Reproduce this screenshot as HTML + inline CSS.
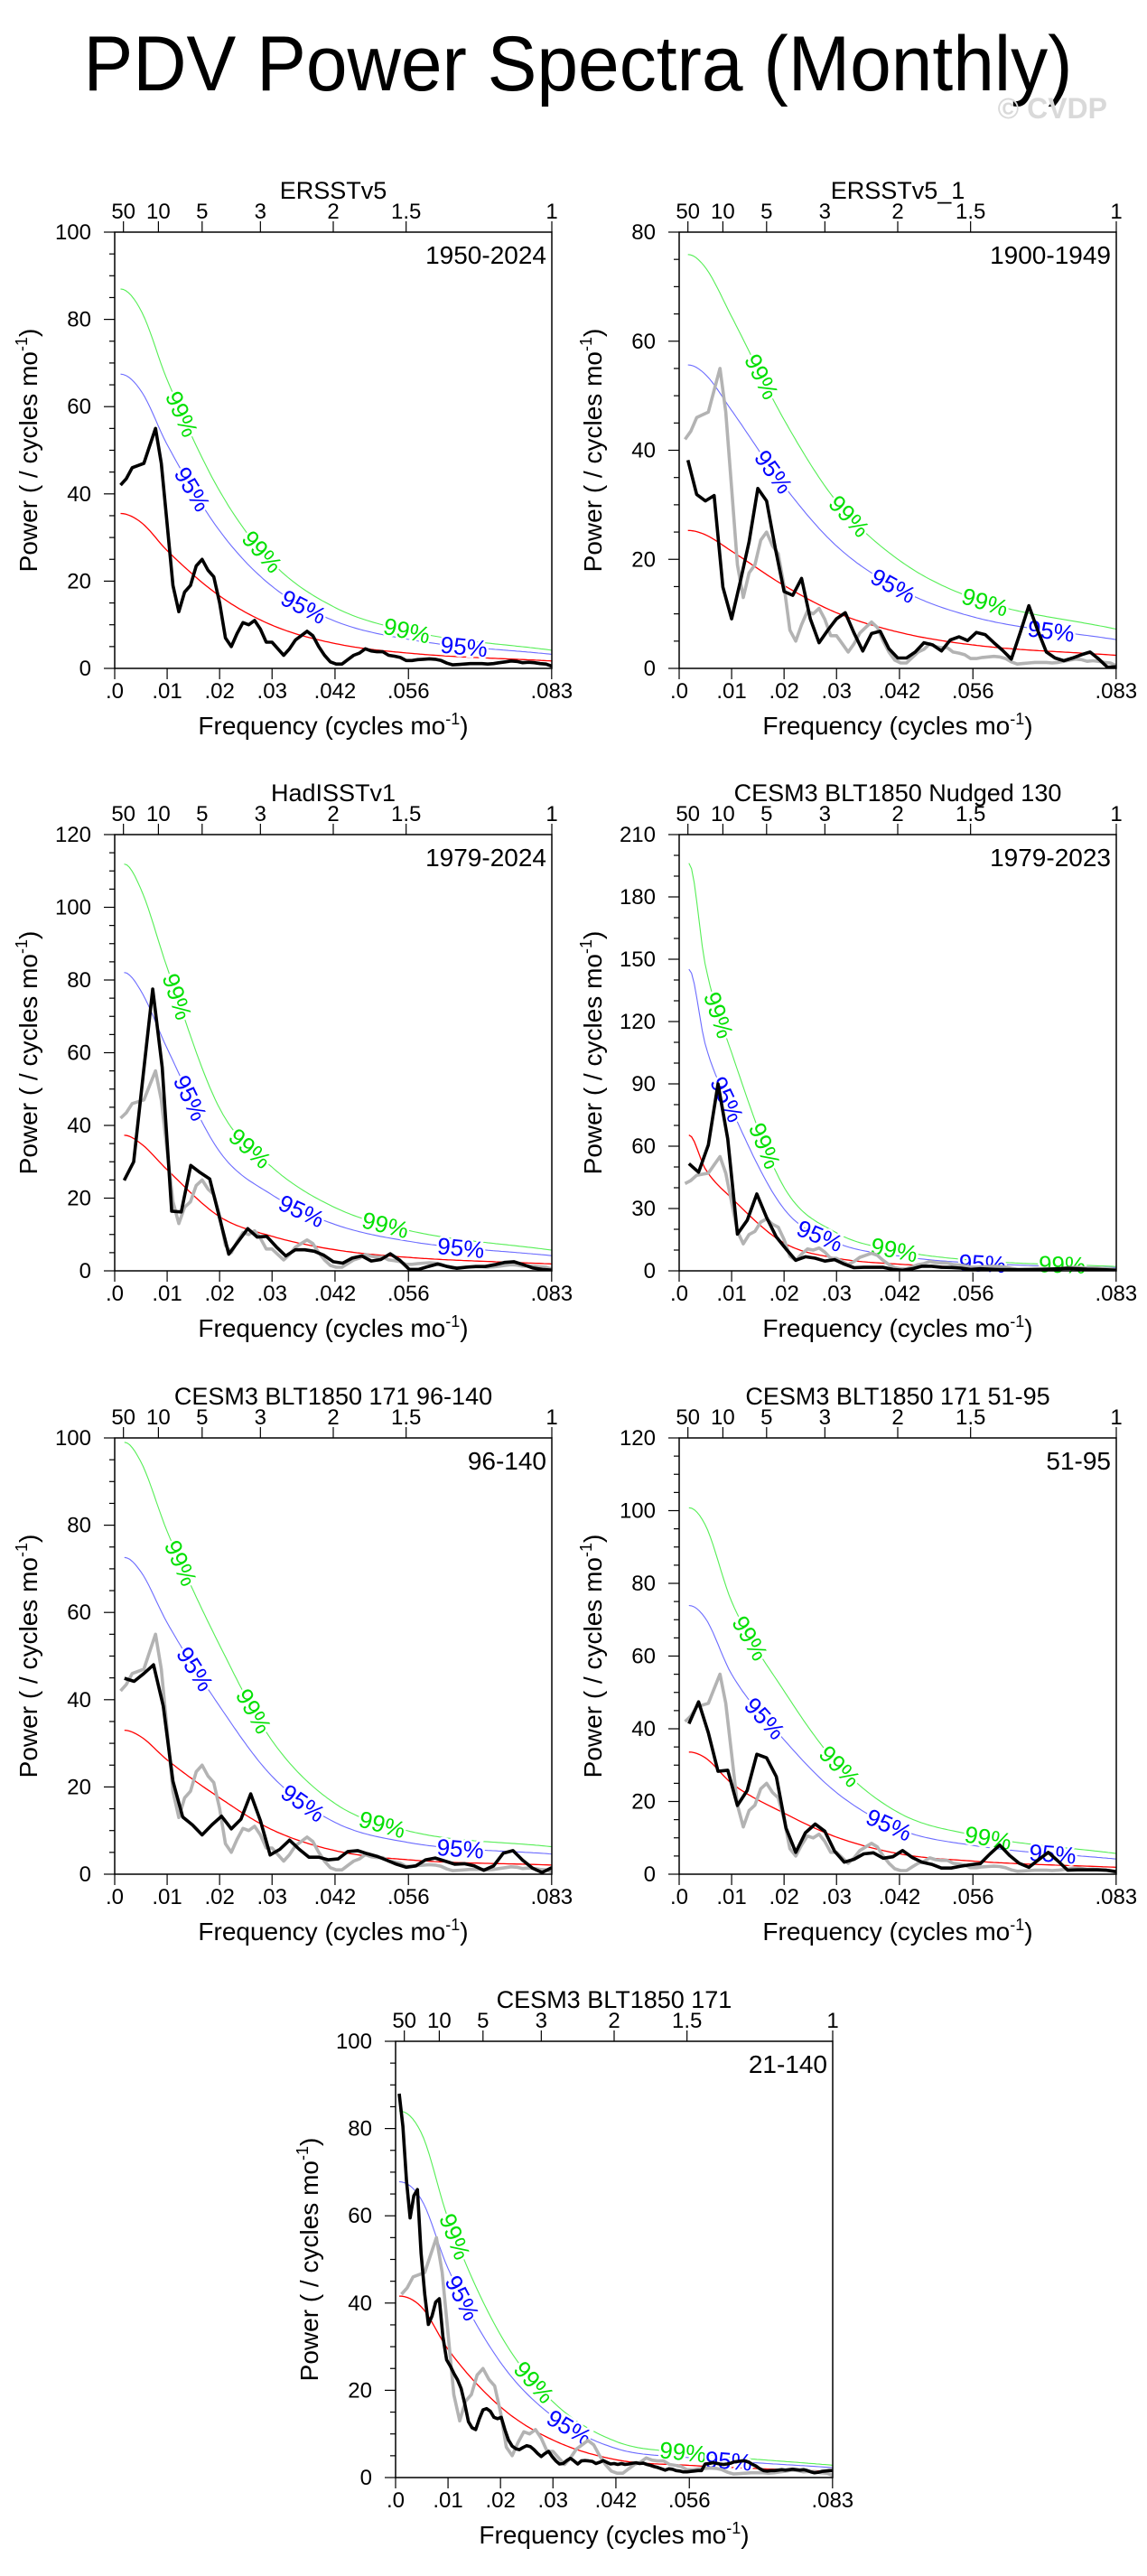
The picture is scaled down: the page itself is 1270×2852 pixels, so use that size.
<!DOCTYPE html>
<html><head><meta charset="utf-8"><title>PDV Power Spectra (Monthly)</title>
<style>
html,body{margin:0;padding:0;background:#fff;}
svg{display:block;font-family:"Liberation Sans",Arial,sans-serif;}
</style></head>
<body>
<svg id="chart" xmlns="http://www.w3.org/2000/svg" width="1270" height="2852" viewBox="0 0 1270 2852">
<rect x="0" y="0" width="1270" height="2852" fill="#fff"/>
<text x="640" y="100" font-size="86" text-anchor="middle" textLength="1095" lengthAdjust="spacingAndGlyphs" fill="#000">PDV Power Spectra (Monthly)</text>
<text x="1226" y="131" font-size="32" font-weight="bold" text-anchor="end" fill="#d9d9d9">© CVDP</text>
</svg>
<script>
// ---------- data ----------
const panelTitles = ["ERSSTv5","ERSSTv5_1","HadISSTv1","CESM3 BLT1850 Nudged 130","CESM3 BLT1850 171 96-140","CESM3 BLT1850 171 51-95","CESM3 BLT1850 171"];
const panelPeriods = ["1950-2024","1900-1949","1979-2024","1979-2023","96-140","51-95","21-140"];
const panelYears = [75,50,46,45,45,45,120];
const yMaxes = [100,80,120,210,100,120,100];
const yMajorSteps = [20,20,20,30,20,20,20];
const yMinorSteps = [5,5,5,10,5,5,5];
const xTickValues = [0,0.01,0.02,0.03,0.042,0.056,0.0833];
const xTickLabels = [".0",".01",".02",".03",".042",".056",".083"];
const topPeriods = [50,10,5,3,2,1.5,1];
const topPeriodLabels = ["50","10","5","3","2","1.5","1"];

// reference (gray) spectrum: ERSSTv5 1950-2024
const refYears = 75;
const refSpectrum = [42,43.5,46,46.5,47,51,55,47,33,19,13,17.5,19,23.5,25,22.5,21,15,7,5,8,10.5,10,11,9,6,6,4.5,3,4.5,6.5,7.5,8.5,7.5,5,3,1.5,1,1,2,3,3.5,4.5,4,3.8,3.8,3,2.8,2.5,1.8,1.8,2,2.1,2.2,2.1,1.8,1.2,0.8,0.9,1,1.1,1.1,1.1,1,1.1,1.3,1.5,1.7,1.6,1.3,1.4,1.3,1.1,1,0.5];

const spec0 = refSpectrum;
const spec1 = [38.2,31.9,30.7,31.7,14.9,9.1,16,23.2,33,30.7,22,14.1,13.4,16.5,9.1,4.7,7,9.1,10.2,6.5,3.2,6.4,6.8,3.6,1.9,1.9,3,4.7,4.3,3.2,5.2,5.8,5.1,6.6,6.2,4.7,3.3,1.7,6.5,11.5,7,3,1.9,1.4,1.9,2.5,3,1.7,0.2,0.3];
const spec2 = [24.9,30,54,77.5,56,16.4,16.2,29,27,25.3,15,4.6,8.1,11.6,9.3,9.5,6.6,4.1,5.8,5.8,5.4,4.3,2.5,2.1,3.5,4.1,2.7,3.1,4.7,2.9,0.4,0.4,1.2,1.9,1.2,0.7,1.0,1.2,1.2,1.7,2.3,2.5,1.7,0.8,0.4,0.2];
const spec3 = [51.6,47.5,60.6,90,63.5,17.7,24.3,37,25.7,16.3,10.5,5.1,6.8,6.1,4.7,5.4,3.2,1.5,1.7,1.7,1.7,0.7,0.3,1,2.2,2.2,1.7,1.6,1.3,0.7,1.0,0.8,0.6,0.6,0.5,0.5,0.6,0.8,1.0,1.2,1.0,0.8,0.7,0.5,0.3];
const spec4 = [44.9,44.2,46,48,38.5,21.3,13.1,11.3,9,11.3,13.3,10.4,12.6,18.4,12.3,4.4,5.7,7.8,5.7,3.9,3.9,3.3,3.5,5.2,5.4,4.7,4.1,3.2,2.3,1.6,1.9,3.3,3.7,3.0,2.3,2.4,1.9,0.9,1.9,4.8,5.4,3.2,1.4,0.4,1.5];
const spec5 = [41.4,47.4,38.9,28.3,28.6,18.9,23,33,32,26.8,12.7,6,11.4,13.8,11.8,6.3,3.3,4.1,5.6,5.9,4.4,4.8,6.5,4.6,3.3,2.7,1.7,1.7,2.2,2.6,2.9,5.6,8,5.2,3,1.9,4,6,3.6,1.1,1.2,1.2,1.2,1.1,0.7];
const spec6 = [88,80.5,68,59.5,64.6,66,51.5,42,35.1,37,40.2,41,32.3,27,25.6,23.9,22.4,20.4,16.9,12.8,11.4,11,13.5,15.5,15.8,15.2,13.8,13.5,13.8,11,8.6,7.2,6.6,6.4,6.9,7.3,7.1,6.4,5.5,4.8,5.5,6,4.8,3.8,3.1,3.2,3.9,4.4,3.8,3.1,3.8,3.9,3.8,3.7,3.2,3.5,3.9,3.5,3.1,3.2,3.0,3.2,3.0,3.1,3.3,3.4,3.2,3.3,3.0,2.8,2.5,2.3,2.0,1.7,2.0,1.9,1.6,1.5,1.3,1.3,1.4,1.5,1.6,1.6,3.1,3.2,3.4,3.3,3.1,3.0,3.1,3.3,3.6,3.7,3.8,3.8,3.5,3.0,2.6,2.0,1.6,1.5,1.6,1.6,1.7,1.8,1.7,1.8,1.9,1.8,1.7,1.8,1.6,1.3,1.1,1.2,1.4,1.5,1.6,1.6];
const showGray = [false,true,true,true,true,true,true];

// red-noise fit: value at first frequency, then at redFreqs
const redFreqs = [0.005,0.01,0.02,0.03,0.042,0.056,0.0833];
const redStart = [35.5,25.3,37.3,65.4,33,33.6,41.6];
const red0 = [33.5,27,16.6,9.9,5.7,3.5,1.7];
const red1 = [24.5,21.5,15.2,10.2,6.6,4.3,2.4];
const red2 = [35,27.8,14.9,9.5,5.8,3.7,1.9];
const red3 = [49,35,13.4,6.1,3.2,1.7,0.7];
const red4 = [31.5,26.2,17.5,10.2,5.4,3.3,2.1];
const red5 = [32,25,16.8,10.2,5.6,3.6,1.9];
const red6 = [39,29.4,16.2,8.6,4.1,2.8,1.4];
const conf95Factor = [1.9,2.2,2.2,2.22,2.2,2.2,1.63];
const conf99Factor = [2.45,3.0,3.0,3.0,3.0,3.0,2.02];
// label positions (frequency) along confidence curves
const label99Freqs = [[0.0128,0.0281,0.0557],[0.0157,0.0324,0.0583],[0.0119,0.0258,0.0516],[0.0075,0.0163,0.041,0.073],[0.0126,0.0265,0.051],[0.0135,0.0306,0.0589],[0.0113,0.0264,0.0548]];
const label95Freqs = [[0.0148,0.036,0.0666],[0.018,0.0408,0.0709],[0.0144,0.0356,0.066],[0.0091,0.0268,0.0578],[0.0153,0.0359,0.0659],[0.0163,0.04,0.0712],[0.0127,0.0331,0.0635]];

// ---------- layout ----------
const boxLeft = [127,752,127,752,127,752,438];
const boxTop = [257,257,924,924,1592,1592,2260];
const BW = 484, BH = 483, FMAX = 1/12;
const spectra = [spec0,spec1,spec2,spec3,spec4,spec5,spec6];
const reds = [red0,red1,red2,red3,red4,red5,red6];

const NS = "http://www.w3.org/2000/svg";
const svg = document.getElementById("chart");
function mk(tag, attrs, parent){
  const e = document.createElementNS(NS, tag);
  for (const k in attrs) e.setAttribute(k, attrs[k]);
  (parent||svg).appendChild(e);
  return e;
}
function monoInterp(xs, ys){
  const n = xs.length, d = [], m = new Array(n);
  for (let i=0;i<n-1;i++) d.push((ys[i+1]-ys[i])/(xs[i+1]-xs[i]));
  m[0]=0; m[n-1]=d[n-2];
  for (let i=1;i<n-1;i++){ m[i] = (d[i-1]*d[i]<=0)?0:(d[i-1]+d[i])/2; }
  for (let i=0;i<n-1;i++){
    if (d[i]===0){m[i]=0;m[i+1]=0;continue;}
    const a=m[i]/d[i], b=m[i+1]/d[i], s=a*a+b*b;
    if (s>9){const t=3/Math.sqrt(s); m[i]=t*a*d[i]; m[i+1]=t*b*d[i];}
  }
  return function(x){
    let i=0; while(i<n-2 && x>xs[i+1]) i++;
    const h=xs[i+1]-xs[i], t=(x-xs[i])/h, t2=t*t, t3=t2*t;
    return (2*t3-3*t2+1)*ys[i]+(t3-2*t2+t)*h*m[i]+(-2*t3+3*t2)*ys[i+1]+(t3-t2)*h*m[i+1];
  };
}

for (let p=0;p<7;p++){
  const L=boxLeft[p], T=boxTop[p], R=L+BW, B=T+BH, ymax=yMaxes[p];
  const xs = f => L + f/FMAX*BW;
  const ys = v => B - v/ymax*BH;
  const g = mk("g",{});
  
  
  const cid = "clip"+p;
  const cp = mk("clipPath",{id:cid}, g);
  mk("rect",{x:L,y:T,width:BW,height:BH}, cp);

  const tt = mk("text",{x:(L+R)/2,y:T-37,"font-size":27,"text-anchor":"middle"}, g);
  tt.textContent = panelTitles[p];
  
  
  const pt = mk("text",{x:R-6,y:T+35,"font-size":28,"text-anchor":"end"}, g);
  pt.textContent = panelPeriods[p];
  
  

  for (let v=0; v<=ymax+1e-9; v+=yMinorSteps[p]){
    const major = Math.abs(v/yMajorSteps[p]-Math.round(v/yMajorSteps[p]))<1e-6;
    const tk = mk("line",{x1:L-(major?12:6),x2:L,y1:ys(v),y2:ys(v),stroke:"#000","stroke-width":1.2}, g);
    
    
    if (major){
      const lb = mk("text",{x:L-26,y:ys(v)+8,"font-size":24,"text-anchor":"end"}, g);
      lb.textContent = String(Math.round(v));
      
      
    }
  }
  xTickValues.forEach((f,i)=>{
    const tk = mk("line",{x1:xs(f),x2:xs(f),y1:B,y2:B+12,stroke:"#000","stroke-width":1.2}, g);
    
    
    const lb = mk("text",{x:xs(f),y:B+33,"font-size":24,"text-anchor":"middle"}, g);
    lb.textContent = xTickLabels[i];
    
    
  });
  topPeriods.forEach((yr,i)=>{
    const f = 1/(12*yr);
    const tk = mk("line",{x1:xs(f),x2:xs(f),y1:T-12,y2:T,stroke:"#000","stroke-width":1.2}, g);
    
    
    const lb = mk("text",{x:xs(f),y:T-15,"font-size":24,"text-anchor":"middle"}, g);
    lb.textContent = topPeriodLabels[i];
    
    
  });
  const yt = mk("text",{x:0,y:0,"font-size":28,"text-anchor":"middle",transform:`translate(${L-86},${(T+B)/2}) rotate(-90)`}, g);
  yt.innerHTML = 'Power ( / cycles mo<tspan dy="-11" font-size="18">-1</tspan><tspan dy="11">)</tspan>';
  
  
  const xt = mk("text",{x:(L+R)/2,y:B+73,"font-size":28,"text-anchor":"middle"}, g);
  xt.innerHTML = 'Frequency (cycles mo<tspan dy="-11" font-size="18">-1</tspan><tspan dy="11">)</tspan>';
  
  

  const spec = spectra[p], yrs = panelYears[p];
  const f1 = 1/(12*yrs);
  const rf = [f1].concat(redFreqs), rv = [redStart[p]].concat(reds[p]);
  const redFn = monoInterp(rf, rv);
  const curves = [[1,"#ff0000",1.3,"red-noise-curve"],[conf95Factor[p],"#6b6bff",1.1,"conf-95-curve"],[conf99Factor[p],"#55ee55",1.1,"conf-99-curve"]];
  const cg = mk("g",{"clip-path":`url(#${cid})`}, g);
  curves.forEach(c=>{
    let d="";
    for (let i=0;i<=160;i++){
      const f = f1 + (FMAX-f1)*i/160;
      d += (i?"L":"M")+xs(f).toFixed(1)+","+ys(redFn(f)*c[0]).toFixed(1);
    }
    const pa = mk("path",{d:d,fill:"none",stroke:c[1],"stroke-width":c[2]}, cg);
    
    
  });
  const labelSets = [[label99Freqs[p],conf99Factor[p],"#00e000","99%"],[label95Freqs[p],conf95Factor[p],"#0000ff","95%"]];
  labelSets.forEach(ls=>{
    ls[0].forEach(f=>{
      const x0=xs(f), y0=ys(redFn(f)*ls[1]);
      const x1=xs(f+0.0008), y1=ys(redFn(f+0.0008)*ls[1]);
      const ang = Math.atan2(y1-y0, x1-x0)*180/Math.PI;
      const lt = mk("text",{x:0,y:9,"font-size":26,"text-anchor":"middle",fill:ls[2],stroke:"#fff","stroke-width":5,"paint-order":"stroke",transform:`translate(${x0.toFixed(1)},${y0.toFixed(1)}) rotate(${ang.toFixed(1)})`}, g);
      lt.textContent = ls[3];
      
      
    });
  });
  const sg = mk("g",{"clip-path":`url(#${cid})`}, g);
  if (showGray[p]){
    let d="";
    refSpectrum.forEach((v,i)=>{ d += (i?"L":"M")+xs((i+1)/(12*refYears)).toFixed(1)+","+ys(v).toFixed(1); });
    const gp = mk("path",{d:d,fill:"none",stroke:"#b3b3b3","stroke-width":3.6,"stroke-linejoin":"round"}, sg);
    
    
  }
  let d="";
  spec.forEach((v,i)=>{ d += (i?"L":"M")+xs((i+1)/(12*yrs)).toFixed(1)+","+ys(v).toFixed(1); });
  const bp = mk("path",{d:d,fill:"none",stroke:"#000","stroke-width":3.6,"stroke-linejoin":"round"}, sg);
  
  
  const fr = mk("rect",{x:L,y:T,width:BW,height:BH,fill:"none",stroke:"#000","stroke-width":1.5}, g);
  
  
}
</script>
</body></html>
